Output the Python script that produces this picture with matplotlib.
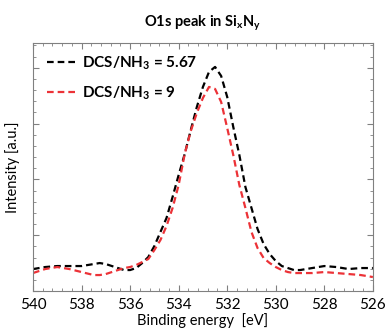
import numpy as np
import matplotlib.pyplot as plt
from matplotlib.ticker import MultipleLocator, AutoMinorLocator

plt.rcParams['font.family'] = ['Lato', 'DejaVu Sans']
plt.rcParams['mathtext.fontset'] = 'custom'
plt.rcParams['mathtext.rm'] = 'Lato'
plt.rcParams['mathtext.bf'] = 'Lato:bold'
plt.rcParams['mathtext.default'] = 'bf'

# binding energy grid [eV]
energy = [540, 539.5, 539, 538.5, 538, 537.5, 537.25, 537, 536.75, 536.5, 536.25,
          536, 535.75, 535.5, 535.25, 535, 534.75, 534.5, 534.25, 534, 533.75,
          533.5, 533.25, 533, 532.75, 532.5, 532.25, 532, 531.75, 531.5, 531.25,
          531, 530.75, 530.5, 530.25, 530, 529.75, 529.5, 529.25, 529, 528.5,
          528, 527.5, 527, 526.5, 526]

# intensity, a.u.
dcs_567 = [22, 24, 25, 25, 25, 27, 28, 27, 25, 23, 21,
           21, 23, 28, 34, 45, 59, 73, 94, 116, 137,
           161, 184, 204, 219, 224, 215, 194, 164, 136, 104,
           83, 62, 47, 37, 30, 25, 23, 21, 21, 23,
           25, 24, 22, 23, 23]
dcs_9 = [18, 22, 24, 22, 19, 16, 16, 17, 19, 21, 23,
         24, 26, 29, 32, 41, 51, 65, 83, 106, 137,
         160, 178, 193, 204, 202, 189, 163, 136, 106, 83,
         59, 43, 33, 28, 24, 21, 19, 18, 18, 18,
         19, 18, 17, 16, 14]

labels = ['DCS/NH$_3$ = 5.67', 'DCS/NH$_3$ = 9']
colors = ['black', '#ec3237']

fig = plt.figure(figsize=(3.88, 3.30), dpi=100)
ax = fig.add_axes([0.085, 0.118, 0.876, 0.752])

for y, lab, c in zip([dcs_567, dcs_9], labels, colors):
    ax.plot(energy, y, color=c, lw=1.6, linestyle=(0, (3, 1.8)), label=lab)

ax.set_xlim(540, 526)
ax.set_ylim(0, 248)
ax.xaxis.set_major_locator(MultipleLocator(2))
ax.xaxis.set_minor_locator(AutoMinorLocator(5))
ax.yaxis.set_major_locator(MultipleLocator(55.8))
ax.yaxis.set_minor_locator(AutoMinorLocator(5))
ax.tick_params(which='both', direction='in', top=True, right=True, color='#808080')
ax.tick_params(which='major', length=4, labelsize=11, pad=5)
ax.tick_params(which='minor', length=2.5)
ax.set_yticklabels([])
for s in ax.spines.values():
    s.set_color('#808080')

ax.set_xlabel('Binding energy  [eV]', fontsize=10.5, labelpad=1)
ax.set_ylabel('Intensity [a.u.]', fontsize=10.5, labelpad=4)
ax.set_title('O1s peak in Si$_x$N$_y$', fontsize=10.5, fontweight='bold', pad=12)

ax.legend(frameon=False, loc='upper left', bbox_to_anchor=(0.0, 1.01),
          prop={'weight': 'bold', 'size': 11}, handlelength=1.9,
          handletextpad=0.4, labelspacing=0.85)

fig.savefig('out.png', dpi=100)
